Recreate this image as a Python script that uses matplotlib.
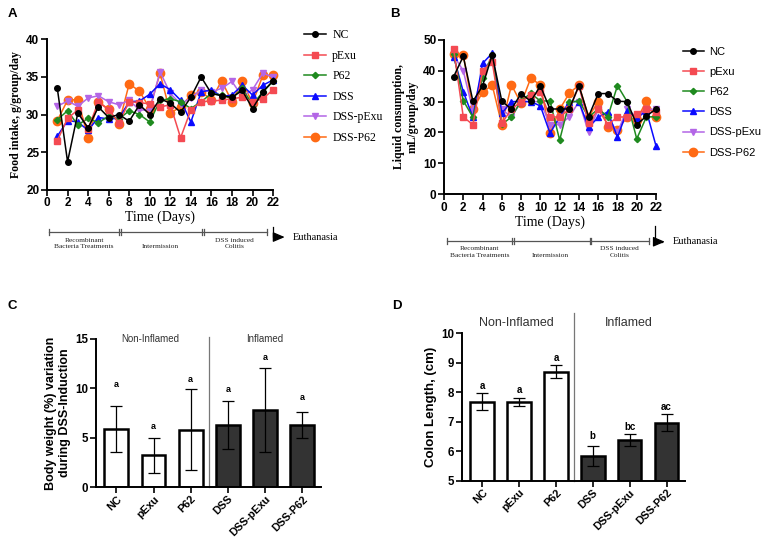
import numpy as np
import matplotlib
matplotlib.use("Agg")
import matplotlib.pyplot as plt
from matplotlib.lines import Line2D

plt.rcParams['font.family'] = ['Liberation Sans', 'DejaVu Sans']

# data
days = list(range(1, 23))
groups = ['NC', 'pExu', 'P62', 'DSS', 'DSS-pExu', 'DSS-P62']

food_nc = [33.5, 23.7, 30.2, 28.2, 31.0, 29.6, 30.0, 29.1, 31.3, 30.0, 32.1, 31.5, 30.3, 32.3, 35.0, 32.8, 32.5, 32.3, 33.2, 30.8, 33.0, 34.5]
food_pexu = [26.5, 29.5, 30.6, 28.1, 31.7, 30.6, 28.9, 31.7, 31.6, 31.4, 31.0, 31.3, 26.9, 30.6, 31.7, 31.8, 31.9, 32.1, 32.3, 31.7, 32.1, 33.3]
food_p62 = [29.3, 30.5, 28.6, 29.5, 28.9, 29.8, 29.4, 30.5, 30.0, 29.0, 31.9, 32.1, 31.7, 30.8, 31.7, 32.8, 32.6, 32.1, 33.5, 31.3, 33.0, 34.4]
food_dss = [27.1, 29.2, 29.0, 27.9, 29.6, 29.4, 29.5, 31.7, 31.8, 32.7, 34.1, 33.3, 31.9, 29.0, 33.0, 33.3, 32.4, 32.6, 33.9, 32.6, 33.9, 34.6]
food_dss_pexu = [31.1, 31.8, 31.1, 32.2, 32.5, 31.7, 31.3, 31.9, 30.6, 30.6, 35.7, 32.8, 31.4, 32.2, 33.3, 33.0, 33.5, 34.4, 32.4, 33.3, 35.5, 35.0]
food_dss_p62 = [29.2, 31.9, 32.0, 26.9, 31.7, 30.7, 28.8, 34.1, 33.1, 30.8, 35.5, 30.2, 31.0, 32.6, 33.0, 32.0, 34.5, 31.7, 34.4, 31.5, 35.2, 35.2]

liq_nc = [38.1, 44.7, 30.1, 35.1, 45.1, 30.1, 27.6, 32.6, 30.1, 35.1, 27.6, 27.6, 27.6, 35.2, 25.1, 32.6, 32.6, 30.1, 30.0, 22.5, 25.3, 27.6]
liq_pexu = [47.0, 25.0, 22.5, 40.0, 43.0, 23.0, 27.5, 30.0, 32.0, 33.0, 25.0, 25.0, 27.5, 35.0, 23.0, 27.5, 22.5, 25.0, 25.0, 26.0, 27.5, 26.5]
liq_p62 = [45.5, 30.3, 24.9, 37.8, 45.1, 22.6, 25.0, 30.2, 32.7, 30.2, 30.2, 17.5, 29.8, 30.2, 25.0, 27.6, 25.1, 35.2, 30.0, 17.9, 25.0, 25.1]
liq_dss = [44.6, 33.2, 24.9, 42.4, 45.7, 26.2, 30.0, 30.0, 30.0, 28.6, 19.7, 25.0, 30.0, 30.0, 21.6, 24.9, 26.7, 18.4, 27.0, 24.6, 27.0, 15.6]
liq_dss_pexu = [45.0, 40.0, 27.0, 40.0, 44.0, 27.5, 25.0, 30.0, 30.0, 30.0, 22.5, 22.5, 25.0, 30.0, 20.0, 27.5, 25.0, 20.0, 27.5, 25.0, 27.5, 27.5]
liq_dss_p62 = [45.5, 45.1, 27.5, 33.0, 35.4, 22.4, 35.4, 29.4, 37.6, 35.4, 19.7, 27.5, 32.7, 35.4, 25.0, 30.0, 21.9, 20.8, 25.0, 24.0, 30.2, 24.9]

bw_mean = [5.9, 3.2, 5.8, 6.3, 7.8, 6.3]
bw_err = [2.35, 1.8, 4.1, 2.45, 4.25, 1.3]
bw_letters = ['a', 'a', 'a', 'a', 'a', 'a']
bw_letter_y = [10.4, 6.15, 10.9, 9.9, 13.1, 9.1]

colon_mean = [7.68, 7.67, 8.69, 5.83, 6.37, 6.97]
colon_err = [0.29, 0.15, 0.22, 0.34, 0.2, 0.3]
colon_letters = ['a', 'a', 'a', 'b', 'bc', 'ac']
colon_letter_y = [8.21, 8.09, 9.15, 6.53, 6.83, 7.51]

colors = ['black', '#f44a52', '#1f8a1f', '#0a0aff', '#b366e6', '#ff6a14']
markers = ['o', 's', 'D', '^', 'v', 'o']
msizes = [4.0, 4.2, 3.2, 4.0, 4.2, 6.0]

fig = plt.figure(figsize=(7.67, 5.41), dpi=100)


def line_panel(rect, series, ylim, yticks, ylabel, legend_font, legend_size, legend_pos, legend_gap):
    ax = fig.add_axes(rect)
    handles = []
    for i in range(len(series) - 1, -1, -1):
        ax.plot(days, series[i], color=colors[i], marker=markers[i], ms=msizes[i],
                lw=1.1, zorder=10 - i, clip_on=False)
    for i in range(len(series)):
        handles.append(Line2D([], [], color=colors[i], marker=markers[i], ms=msizes[i], lw=1.1))
    ax.set_xlim(0, 22)
    ax.set_ylim(*ylim)
    ax.set_xticks(range(0, 23, 2))
    ax.set_yticks(yticks)
    for s in ['top', 'right']:
        ax.spines[s].set_visible(False)
    for s in ['left', 'bottom']:
        ax.spines[s].set_linewidth(1.4)
    ax.tick_params(width=1.2, length=4, labelsize=8.5, pad=1.5)
    for lab in ax.get_xticklabels() + ax.get_yticklabels():
        lab.set_fontweight('bold')
    ax.set_xlabel('Time (Days)', family='Liberation Serif', fontsize=10, labelpad=1)
    ax.set_ylabel(ylabel, family='Liberation Serif', fontweight='bold', fontsize=8.5, labelpad=3)
    fig.legend(handles, groups, loc='upper left', bbox_to_anchor=legend_pos,
               frameon=False, prop={'family': legend_font, 'size': legend_size},
               handlelength=1.9, labelspacing=legend_gap, handletextpad=0.5,
               borderaxespad=0, borderpad=0.2)
    return ax


def timeline(ax, y, breaks, txt_y, arrow, eu_x, fs=5.3):
    tr = ax.get_xaxis_transform()
    kw = dict(transform=tr, clip_on=False, color='#555555', lw=0.9)
    ax.plot([breaks[0], breaks[-1]], [y, y], **kw)
    for b in breaks:
        ax.plot([b, b], [y - 0.02, y + 0.02], **kw)
    for b in breaks[1:-1]:
        ax.plot([b + 0.2, b + 0.2], [y - 0.02, y + 0.02], **kw)
    labels = ['Recombinant\nBacteria Treatments', 'Intermission', 'DSS induced\nColitis']
    for k, lab in enumerate(labels):
        xm = (breaks[k] + breaks[k + 1]) / 2
        ax.text(xm, txt_y[k], lab, transform=tr, ha='center', va='top',
                family='Liberation Serif', fontsize=fs, linespacing=1.3, color='#222222')
    ax_x, y0, y1, x1 = arrow
    ax.plot([ax_x, ax_x, x1 - 0.6], [y0, y1, y1], transform=tr, clip_on=False, color='black', lw=0.9)
    ax.annotate('', xy=(x1, y1), xycoords=tr, xytext=(x1 - 1.0, y1), textcoords=tr,
                arrowprops=dict(arrowstyle='-|>,head_length=0.7,head_width=0.3', color='black', lw=0.9))
    ax.text(eu_x, y1, 'Euthanasia', transform=tr, ha='left', va='center',
            family='Liberation Serif', fontsize=7.5)


food = [food_nc, food_pexu, food_p62, food_dss, food_dss_pexu, food_dss_p62]
liq = [liq_nc, liq_pexu, liq_p62, liq_dss, liq_dss_pexu, liq_dss_p62]

axA = line_panel([0.0613, 0.6497, 0.2947, 0.2773], food, (20, 40), [20, 25, 30, 35, 40],
                 'Food intake, g/group/day', 'Liberation Serif', 8.5, (0.393, 0.95), 0.72)
timeline(axA, -0.285, [0.2, 7.0, 15.1, 21.4], [-0.32, -0.36, -0.32],
         (22.0, -0.25, -0.317, 23.4), 23.9)

axB = line_panel([0.5789, 0.6414, 0.2764, 0.2847], liq, (0, 50), [0, 10, 20, 30, 40, 50],
                 'Liquid consumption,\nmL/group/day', 'Liberation Sans', 8, (0.887, 0.918), 0.92)
timeline(axB, -0.305, [0.3, 7.05, 15.1, 21.3], [-0.34, -0.38, -0.34],
         (21.9, -0.21, -0.31, 23.2), 23.75)


def bar_panel(rect, means, errs, letters, letter_y, ylim, yticks, ylabel,
              sep_top, grp_y, grp_fs, tick_fs, lab_fs, let_fs):
    ax = fig.add_axes(rect)
    x = np.arange(len(means))
    fc = ['white'] * 3 + ['#333333'] * 3
    ax.bar(x, means, width=0.64, color=fc, edgecolor='black', linewidth=1.8, zorder=2)
    ax.errorbar(x, means, yerr=errs, fmt='none', ecolor='black', elinewidth=0.9,
                capsize=4.5, capthick=0.9, zorder=3)
    for xi, l, ly in zip(x, letters, letter_y):
        ax.text(xi, ly, l, ha='center', va='center', fontweight='bold', fontsize=let_fs)
    ax.set_xlim(-0.55, 5.5)
    ax.set_ylim(*ylim)
    ax.set_yticks(yticks)
    ax.set_xticks(x)
    ax.set_xticklabels(groups, rotation=45, ha='right', rotation_mode='anchor',
                       fontweight='bold', fontsize=tick_fs)
    for lab in ax.get_yticklabels():
        lab.set_fontweight('bold')
    ax.tick_params(axis='y', labelsize=tick_fs + 0.5, width=1.2, length=4, pad=1.5)
    ax.tick_params(axis='x', width=1.2, length=4, pad=1)
    for s in ['top', 'right']:
        ax.spines[s].set_visible(False)
    for s in ['left', 'bottom']:
        ax.spines[s].set_linewidth(1.4)
    ax.plot([2.5, 2.5], [ylim[0], sep_top], color='#777777', lw=0.9, clip_on=False)
    ax.text(0.92, grp_y, 'Non-Inflamed', ha='center', va='center', fontsize=grp_fs, color='#333333')
    ax.text(3.98, grp_y, 'Inflamed', ha='center', va='center', fontsize=grp_fs, color='#333333')
    ax.set_ylabel(ylabel, fontweight='bold', fontsize=lab_fs, labelpad=3)
    return ax


axC = bar_panel([0.125, 0.0998, 0.2933, 0.2736], bw_mean, bw_err, bw_letters, bw_letter_y,
                (0, 15), [0, 5, 10, 15], 'Body weight (%) variation\nduring DSS-Induction',
                15.2, 15.0, 7, 7.8, 9, 6.5)
axD = bar_panel([0.6023, 0.1115, 0.2907, 0.2724], colon_mean, colon_err, colon_letters, colon_letter_y,
                (5, 10), [5, 6, 7, 8, 9, 10], 'Colon Length, (cm)',
                10.69, 10.36, 9, 7.8, 9.5, 7)

for lab, (px, py) in zip('ABCD', [(8, 14), (390, 14), (8, 306), (392, 306)]):
    fig.text(px / 767, 1 - py / 541, lab, fontweight='bold', fontsize=9.5, ha='left', va='center')

fig.savefig('out.png', dpi=100)
